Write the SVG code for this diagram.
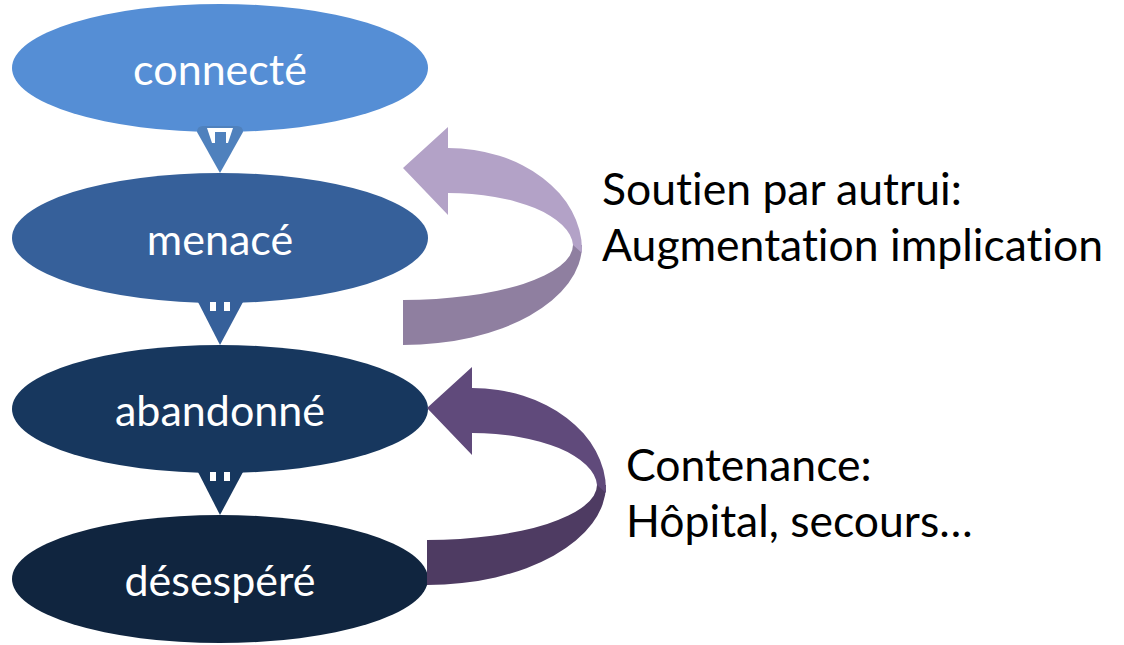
<svg xmlns="http://www.w3.org/2000/svg" width="1124" height="645" viewBox="0 0 1124 645">
  <style>
    .lbl { font-family: Lato, "Open Sans", sans-serif; font-size: 43px; fill: #ffffff; text-anchor: middle; font-variant-ligatures: none; }
    .side { font-family: Lato, "Open Sans", sans-serif; font-size: 44.5px; fill: #000000; font-variant-ligatures: none; }
  </style>
  <rect width="1124" height="645" fill="#ffffff"/>

  <g id="node-connecte">
    <ellipse cx="220" cy="68" rx="208" ry="64" fill="#558ED5"/>
    <text class="lbl" x="220" y="85">connecté</text>
  </g>
  <g id="node-menace">
    <ellipse cx="220" cy="238" rx="208" ry="65" fill="#36609A"/>
    <text class="lbl" x="220" y="255">menacé</text>
  </g>
  <g id="node-abandonne">
    <ellipse cx="220" cy="409" rx="208" ry="64" fill="#17375E"/>
    <text class="lbl" x="220" y="426">abandonné</text>
  </g>
  <g id="node-desespere">
    <ellipse cx="220" cy="579" rx="208" ry="64" fill="#10253F"/>
    <text class="lbl" x="220" y="596">désespéré</text>
  </g>

  <g id="connectors">
    <g id="down-1" fill="#4F81BD">
      <path d="M197,132 Q197,126 203,126 L237,126 Q243,126 243,132 L220,173 Z"/>
      <path d="M207,128 L233,128 L228,143 L212,143 Z" fill="#ffffff"/>
      <rect x="215" y="132" width="11" height="11"/>
    </g>
    <g id="down-2" fill="#36609A">
      <path d="M198,302 L243,302 L220,345 Z"/>
      <rect x="210" y="302" width="20" height="9" fill="#ffffff"/>
      <rect x="216" y="300" width="8" height="11"/>
    </g>
    <g id="down-3" fill="#17375E">
      <path d="M198,472 L243,472 L220,515 Z"/>
      <rect x="210" y="472" width="20" height="9" fill="#ffffff"/>
      <rect x="216" y="470" width="8" height="11"/>
    </g>
    <g id="loop-1">
      <path d="M403,300 A170,55 0 0 0 573,245 L582,245 A179,100 0 0 1 403,345 Z" fill="#8F7FA0"/>
      <path d="M403,168 L448,127 L448,148 A134,102 0 0 1 582,250 L582,253 L573,245 A125,54 0 0 0 448,193 L448,215 Z" fill="#B3A2C7"/>
    </g>
    <g id="loop-2" transform="translate(24,240)">
      <path d="M403,300 A170,55 0 0 0 573,245 L582,245 A179,100 0 0 1 403,345 Z" fill="#4E3B62"/>
      <path d="M403,168 L448,127 L448,148 A134,102 0 0 1 582,250 L582,253 L573,245 A125,54 0 0 0 448,193 L448,215 Z" fill="#604A7B"/>
    </g>
  </g>

  <g id="label-soutien">
    <text class="side" x="602" y="205">Soutien par autrui:</text>
    <text class="side" x="602" y="261">Augmentation implication</text>
  </g>
  <g id="label-contenance">
    <text class="side" x="626" y="481">Contenance:</text>
    <text class="side" x="626" y="537">Hôpital, secours…</text>
  </g>
</svg>
